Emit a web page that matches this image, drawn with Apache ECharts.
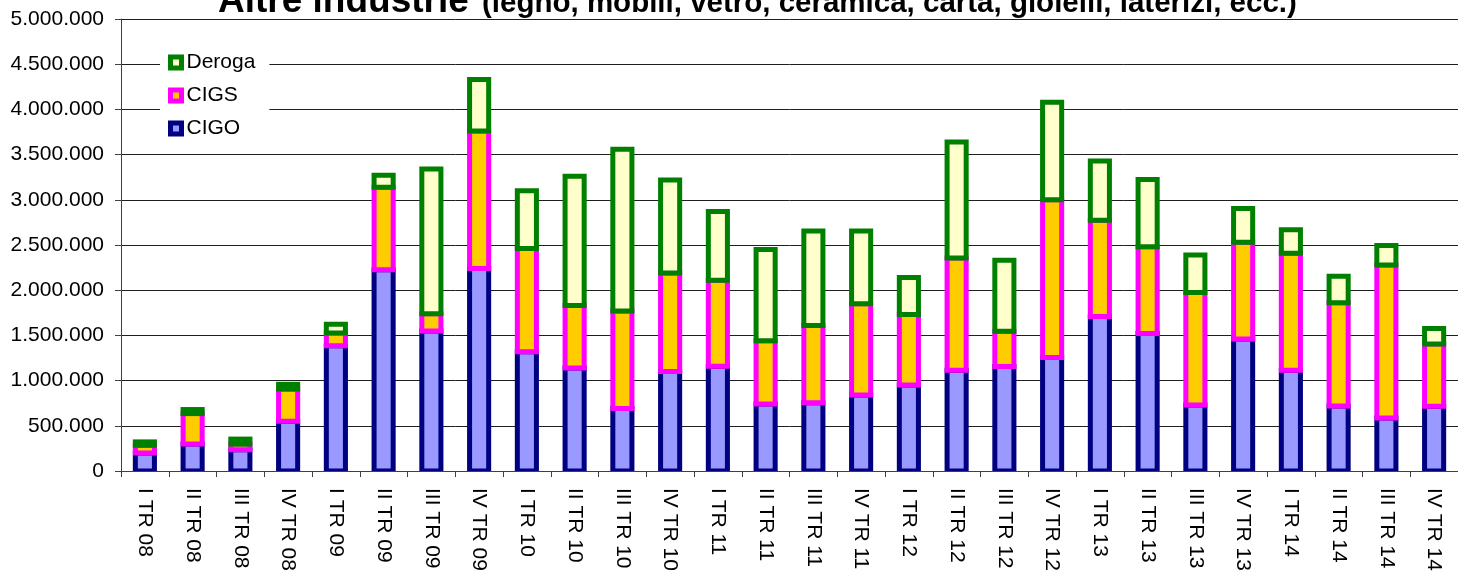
<!DOCTYPE html>
<html>
<head>
<meta charset="utf-8">
<script src="https://cdn.jsdelivr.net/npm/echarts@6/dist/echarts.min.js"></script>
<style>
  html, body { margin: 0; padding: 0; background: #ffffff; }
  #chart { width: 1458px; height: 577px; }
</style>
</head>
<body>
<div id="chart"></div>
<script>
// Ore autorizzate per trimestre
const categories = [
  'I TR 08', 'II TR 08', 'III TR 08', 'IV TR 08',
  'I TR 09', 'II TR 09', 'III TR 09', 'IV TR 09',
  'I TR 10', 'II TR 10', 'III TR 10', 'IV TR 10',
  'I TR 11', 'II TR 11', 'III TR 11', 'IV TR 11',
  'I TR 12', 'II TR 12', 'III TR 12', 'IV TR 12',
  'I TR 13', 'II TR 13', 'III TR 13', 'IV TR 13',
  'I TR 14', 'II TR 14', 'III TR 14', 'IV TR 14'
];

const cigo = [
  200000, 300000, 235000, 550000,
  1386000, 2227000, 1550000, 2240000,
  1320000, 1140000, 690000, 1100000,
  1160000, 740000, 755000, 840000,
  950000, 1115000, 1155000, 1255000,
  1710000, 1520000, 730000, 1460000,
  1115000, 720000, 585000, 715000
];

const cigs = [
  85000, 335000, 63000, 357000,
  141000, 911000, 190000, 1520000,
  1140000, 690000, 1080000, 1090000,
  950000, 700000, 855000, 1010000,
  780000, 1240000, 390000, 1745000,
  1065000, 960000, 1245000, 1070000,
  1295000, 1140000, 1695000, 690000
];

const deroga = [
  37000, 45000, 55000, 52000,
  96000, 133000, 1600000, 570000,
  640000, 1430000, 1790000, 1030000,
  760000, 1010000, 1045000, 805000,
  410000, 1285000, 785000, 1080000,
  655000, 745000, 415000, 375000,
  260000, 295000, 215000, 170000
];

const yTicks = { min: 0, max: 5000000, step: 500000 };

const FONT = '"Liberation Sans", Arial, sans-serif';

const styles = {
  CIGO:   { color: '#9999FF', borderColor: '#000080' },
  CIGS:   { color: '#FFCC00', borderColor: '#FF00FF' },
  Deroga: { color: '#FFFFCC', borderColor: '#008000' }
};

const BAR_RATIO = 0.4;   // share of the category band used by each column
const BORDER = 5;

function thousands(v) {
  return String(v).replace(/\B(?=(\d{3})+(?!\d))/g, '.');
}

// Stacked columns whose outline is centred on the segment edge,
// so every segment's border overlaps the one below it.
const stackOrder = [['CIGO', cigo], ['CIGS', cigs], ['Deroga', deroga]];
const running = categories.map(() => 0);

const series = stackOrder.map(([name, values]) => {
  const data = values.map((v, i) => {
    const base = running[i];
    running[i] += v;
    return [i, base, running[i]];
  });
  const st = styles[name];
  return {
    name: name,
    type: 'custom',
    data: data,
    clip: true,
    encode: { x: 0, y: [1, 2] },
    itemStyle: { color: st.color, borderColor: st.borderColor, borderWidth: BORDER },
    renderItem: function (params, api) {
      const i = api.value(0);
      const pBase = api.coord([i, api.value(1)]);
      const pTop = api.coord([i, api.value(2)]);
      const w = api.size([1, 0])[0] * BAR_RATIO;
      return {
        type: 'rect',
        shape: { x: pBase[0] - w / 2, y: pTop[1], width: w, height: pBase[1] - pTop[1] },
        style: { fill: st.color, stroke: st.borderColor, lineWidth: BORDER }
      };
    },
    emphasis: { disabled: true }
  };
});

const chart = echarts.init(document.getElementById('chart'), null, { renderer: 'canvas' });

chart.setOption({
  animation: false,
  backgroundColor: '#ffffff',
  textStyle: { fontFamily: FONT },
  graphic: [
    {
      type: 'text', x: 218, y: 1.5,
      style: {
        text: 'Altre industrie',
        font: 'bold 37px ' + FONT,
        fill: '#000000',
        verticalAlign: 'middle'
      }
    },
    {
      type: 'text', x: 482, y: 4,
      style: {
        text: '(legno, mobili, vetro, ceramica, carta, gioielli, laterizi, ecc.)',
        font: 'bold 29.5px ' + FONT,
        fill: '#000000',
        verticalAlign: 'middle'
      }
    }
  ],
  grid: { left: 121, right: 0, top: 19, bottom: 106, containLabel: false },
  legend: {
    orient: 'vertical',
    left: 160,
    top: 46,
    padding: [6, 14, 6, 8],
    backgroundColor: '#ffffff',
    itemWidth: 11,
    itemHeight: 11,
    itemGap: 12,
    icon: 'rect',
    textStyle: { fontFamily: FONT, fontSize: 21, color: '#000000' },
    data: ['Deroga', 'CIGS', 'CIGO'].map(n => ({
      name: n,
      itemStyle: { color: styles[n].color, borderColor: styles[n].borderColor, borderWidth: 5 }
    }))
  },
  xAxis: {
    type: 'category',
    data: categories,
    axisLine: { lineStyle: { color: '#404040', width: 1 } },
    axisTick: { show: true, length: 6, lineStyle: { color: '#404040' } },
    axisLabel: {
      rotate: -90,
      margin: 17,
      fontFamily: FONT,
      fontSize: 21,
      color: '#000000'
    }
  },
  yAxis: {
    type: 'value',
    min: yTicks.min,
    max: yTicks.max,
    interval: yTicks.step,
    axisLine: { show: true, lineStyle: { color: '#404040', width: 1 } },
    axisTick: { show: true, length: 6, lineStyle: { color: '#404040' } },
    splitLine: { show: true, lineStyle: { color: '#1f1f1f', width: 1 } },
    axisLabel: {
      margin: 17,
      fontFamily: FONT,
      fontSize: 21,
      color: '#000000',
      formatter: thousands
    }
  },
  series: series
});
</script>
</body>
</html>
